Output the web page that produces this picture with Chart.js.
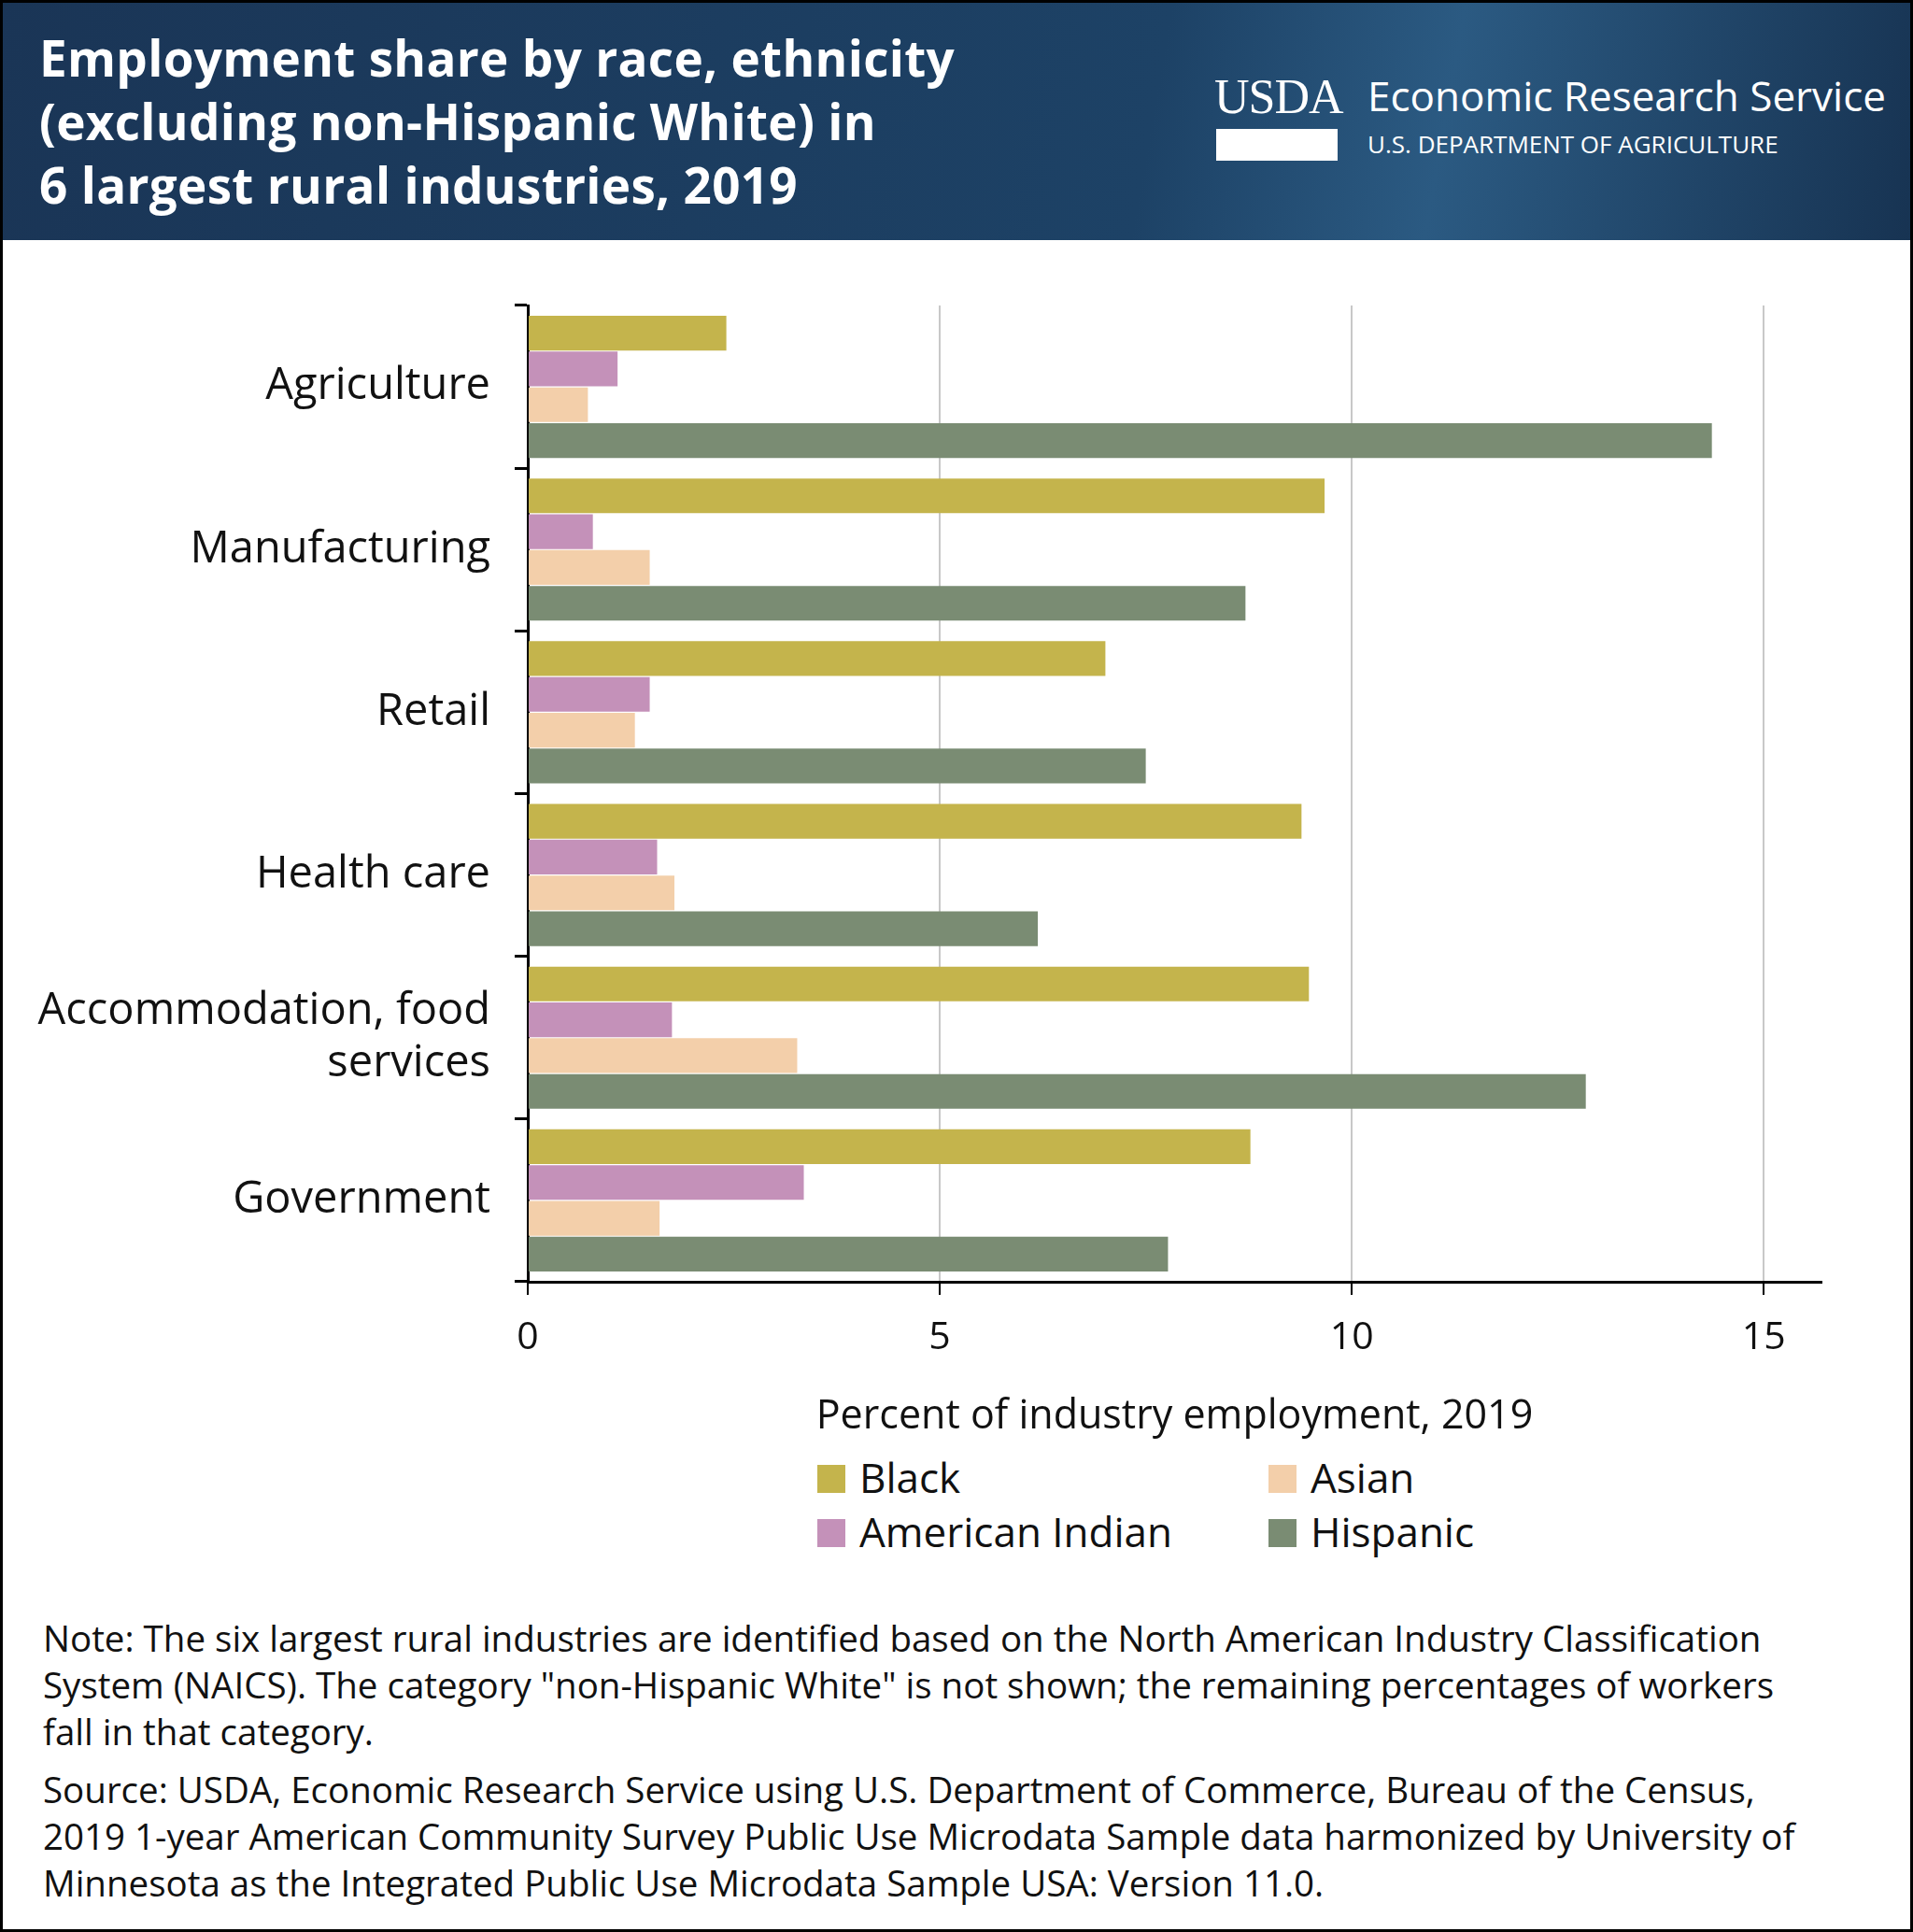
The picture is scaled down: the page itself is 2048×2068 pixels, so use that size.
<!DOCTYPE html>
<html><head><meta charset="utf-8">
<script src="https://cdn.jsdelivr.net/npm/chart.js@4"></script>
<style>
body{margin:0;width:2048px;height:2068px;position:relative;font-family:"Open Sans",sans-serif;background:#fff;overflow:hidden}
#frame{position:absolute;left:0;top:0;width:2042px;height:2062px;border:3px solid #000;}
#hdr{position:absolute;left:0;top:0;width:2048px;height:257px;background:linear-gradient(100deg,#1a3556 0%,#1d4266 60%,#2b5a82 75%,#173352 100%);color:#fff}
#title{position:absolute;left:42px;top:28px;font:700 53px/68px "Open Sans",sans-serif;letter-spacing:0.3px}
#usda{position:absolute;left:1300px;top:78px;font:400 52px/52px "Liberation Serif",serif;letter-spacing:-1px}
#usdabar{position:absolute;left:1302px;top:138px;width:130px;height:34px;background:#fff}
#ers{position:absolute;left:1464px;top:74px;font:400 44px/56px "Open Sans",sans-serif}
#dept{position:absolute;left:1464px;top:138px;font:400 26px/32px "Open Sans",sans-serif}
#wrap{position:absolute;left:0;top:257px;width:2048px;height:1290px}
.leg{position:absolute;font:400 44px/50px "Open Sans",sans-serif;color:#111}
.sw{position:absolute;width:30px;height:30px}
.note{position:absolute;left:46px;font:400 38.5px/50px "Open Sans",sans-serif;color:#111;width:2000px;white-space:nowrap}
</style></head><body>
<div id="hdr">
<div id="title">Employment share by race, ethnicity<br>(excluding non-Hispanic White) in<br>6 largest rural industries, 2019</div>
<div id="usda">USDA</div><div id="usdabar"></div>
<div id="ers">Economic Research Service</div>
<div id="dept">U.S. DEPARTMENT OF AGRICULTURE</div>
</div>
<div id="wrap"><canvas id="c"></canvas></div>
<div id="legend"></div>
<div class="note" style="top:1728px">Note: The six largest rural industries are identified based on the North American Industry Classification<br>System (NAICS). The category "non-Hispanic White" is not shown; the remaining percentages of workers<br>fall in that category.</div>
<div class="note" style="top:1890px">Source: USDA, Economic Research Service using U.S. Department of Commerce, Bureau of the Census,<br>2019 1-year American Community Survey Public Use Microdata Sample data harmonized by University of<br>Minnesota as the Integrated Public Use Microdata Sample USA: Version 11.0.</div>
<div id="frame"></div>
<script>
const categories=["Agriculture","Manufacturing","Retail","Health care",["Accommodation, food","services"],"Government"];
const black=[2.41,9.67,7.01,9.39,9.48,8.77];
const amIndian=[1.09,0.79,1.48,1.57,1.75,3.35];
const asian=[0.73,1.48,1.30,1.78,3.27,1.60];
const hispanic=[14.37,8.71,7.50,6.19,12.84,7.77];
const xTicks=[0,5,10,15];
const series=[["Black",black,"#c4b44c"],["American Indian",amIndian,"#c491b9"],["Asian",asian,"#f3cfaa"],["Hispanic",hispanic,"#7a8c73"]];
const legPos=[[875,1583],[875,1641],[1358,1583],[1358,1641]];
const lg=document.getElementById('legend');
series.forEach((s,i)=>{const [x,y]=legPos[i];
lg.insertAdjacentHTML('beforeend',`<div class="sw" style="left:${x}px;top:${y-15}px;background:${s[2]}"></div><div class="leg" style="left:${x+45}px;top:${y-27}px">${s[0]}</div>`);});
const cv=document.getElementById('c');cv.width=2048;cv.height=1290;
new Chart(cv,{type:'bar',
data:{labels:categories,datasets:series.map(s=>({label:s[0],data:s[1],backgroundColor:s[2],categoryPercentage:0.88,barPercentage:0.97}))},
options:{indexAxis:'y',responsive:false,animation:false,devicePixelRatio:1,
layout:{padding:{top:70,right:98,left:0,bottom:0}},
plugins:{legend:{display:false},tooltip:{enabled:false}},
scales:{
x:{min:0,max:15.7,afterBuildTicks:a=>{a.ticks=xTicks.map(v=>({value:v}))},
 grid:{color:'#c8c8c8',lineWidth:2,tickColor:'#000',tickLength:14,drawTicks:true},
 border:{color:'#000',width:3},
 ticks:{color:'#111',font:{size:41,family:'"Open Sans"'},padding:22},
 title:{display:true,text:'Percent of industry employment, 2019',color:'#111',font:{size:43,family:'"Open Sans"'},padding:{top:0}},
 afterFit:s=>{s.height=175}},
y:{grid:{drawOnChartArea:false,tickColor:'#000',tickLength:14,lineWidth:3},
 border:{color:'#000',width:3},
 ticks:{color:'#111',font:{size:47,family:'"Open Sans"'},padding:26},
 afterFit:s=>{s.width=565}}
}}});
</script></body></html>
